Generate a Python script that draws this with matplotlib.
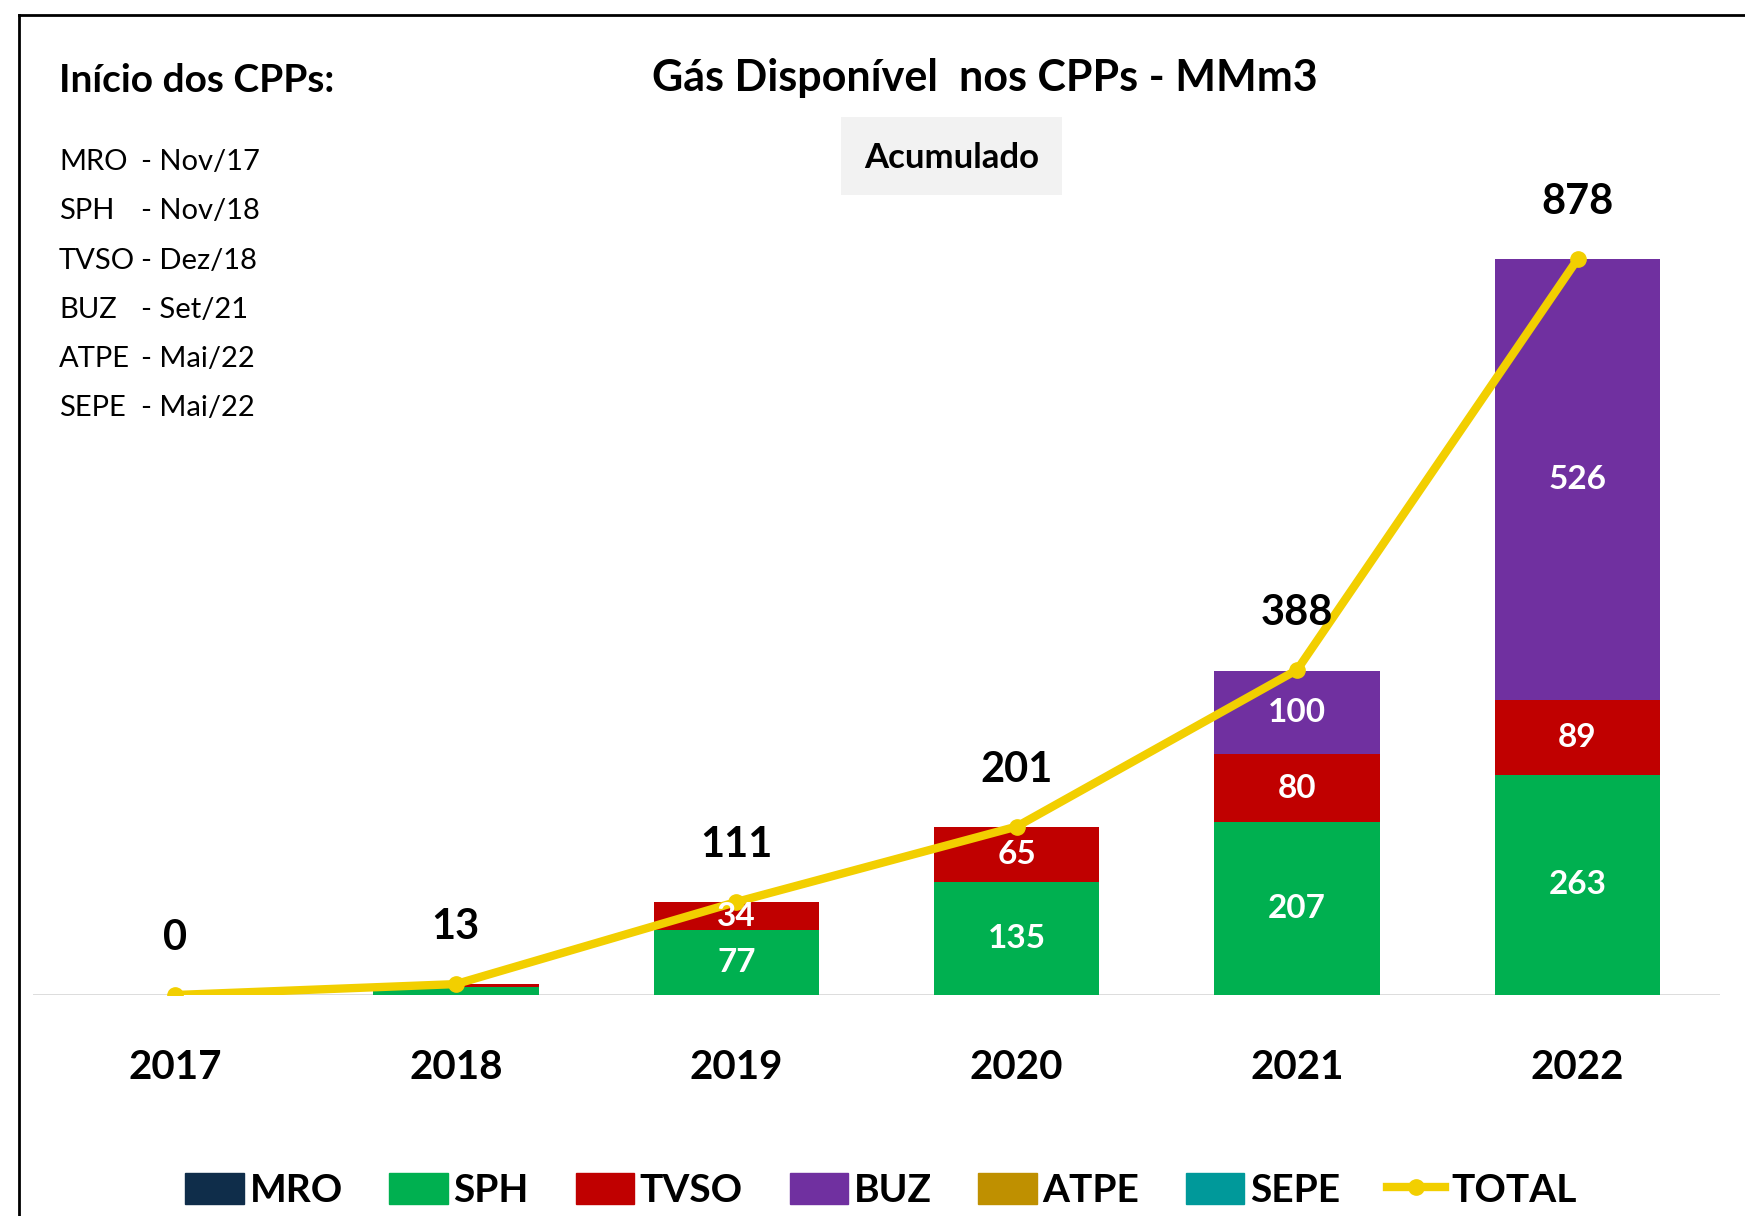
import matplotlib.pyplot as plt
from matplotlib.lines import Line2D
from matplotlib.patches import Patch, Rectangle
import numpy as np

FONT = ["Lato", "DejaVu Sans"]
plt.rcParams["font.family"] = FONT

years = ["2017", "2018", "2019", "2020", "2021", "2022"]
mro = [0, 0, 0, 0, 0, 0]
sph = [0, 10, 77, 135, 207, 263]
tvso = [0, 3, 34, 65, 80, 89]
buz = [0, 0, 0, 0, 100, 526]
atpe = [0, 0, 0, 0, 0, 0]
sepe = [0, 0, 0, 0, 0, 0]
total = [0, 13, 111, 201, 388, 878]

series = [("MRO", mro, "#0F2D4A"), ("SPH", sph, "#00B050"),
          ("TVSO", tvso, "#C00000"), ("BUZ", buz, "#7030A0"),
          ("ATPE", atpe, "#BF9000"), ("SEPE", sepe, "#00999A")]
line_color = "#F2CF00"

cpp_names = ["MRO", "SPH", "TVSO", "BUZ", "ATPE", "SEPE"]
cpp_dates = ["- Nov/17", "- Nov/18", "- Dez/18", "- Set/21", "- Mai/22", "- Mai/22"]

W, H = 1745, 1216
fig = plt.figure(figsize=(W / 100, H / 100), dpi=100)

# axes placement in pixels
x0, x1 = 33, 1720
ybase, ytop = 995, 157
ax = fig.add_axes([x0 / W, 1 - ybase / H, (x1 - x0) / W, (ybase - ytop) / H])

x = np.arange(len(years))
bottom = np.zeros(len(years))
for name, vals, col in series:
    vals = np.array(vals, dtype=float)
    ax.bar(x, vals, 0.59, bottom=bottom, color=col, zorder=2)
    for xi, v, b in zip(x, vals, bottom):
        if v >= 30:
            ax.text(xi, b + v / 2, f"{int(v)}", ha="center", va="center",
                    color="white", fontsize=24, fontweight="bold", zorder=4)
    bottom += vals

ax.plot(x, total, color=line_color, lw=6, marker="o", ms=11, zorder=3,
        solid_capstyle="round")
for xi, t in zip(x, total):
    ax.annotate(f"{t}", (xi, t), xytext=(0, 41), textcoords="offset points",
                ha="center", va="center", fontsize=30, fontweight="bold")

ax.set_xlim(-0.508, 5.508)
ax.set_ylim(0, 1000)
ax.axhline(0, color="#D9D9D9", lw=2, zorder=1)
for s in ax.spines.values():
    s.set_visible(False)
ax.set_yticks([])
ax.set_xticks(x)
ax.set_xticklabels(years, fontsize=29, fontweight="bold")
ax.tick_params(axis="x", length=0, pad=39)

# frame
fig.add_artist(Line2D([19 / W, 19 / W], [0, 1 - 15 / H], color="black", lw=2))
fig.add_artist(Line2D([19 / W, 1], [1 - 15 / H, 1 - 15 / H], color="black", lw=2))

fig.text(985 / W, 1 - 78 / H, "Gás Disponível  nos CPPs - MMm3", ha="center",
         va="center", fontsize=31, fontweight="bold")
fig.add_artist(Rectangle((841 / W, 1 - 195 / H), 221 / W, 78 / H,
                         transform=fig.transFigure, fc="#F2F2F2", ec="none"))
fig.text(952 / W, 1 - 158 / H, "Acumulado", ha="center", va="center",
         fontsize=25, fontweight="bold")
fig.text(59 / W, 1 - 81 / H, "Início dos CPPs:", ha="left", va="center",
         fontsize=28, fontweight="bold")
for i, (n, d) in enumerate(zip(cpp_names, cpp_dates)):
    yy = 1 - (162 + i * 49.3) / H
    fig.text(59 / W, yy, n, ha="left", va="center", fontsize=21)
    fig.text(141 / W, yy, d, ha="left", va="center", fontsize=21)

handles = [Patch(color=c, label=n) for n, _, c in series]
handles.append(Line2D([], [], color=line_color, lw=6, marker="o", ms=11, label="TOTAL"))
fig.legend(handles=handles, loc="center", bbox_to_anchor=(881 / W, 1 - 1190 / H),
           ncol=7, frameon=False, prop={"weight": "bold", "size": 28},
           handlelength=1.5, handleheight=0.85, handletextpad=0.15, columnspacing=1.2)

fig.savefig("out.png", dpi=100)
